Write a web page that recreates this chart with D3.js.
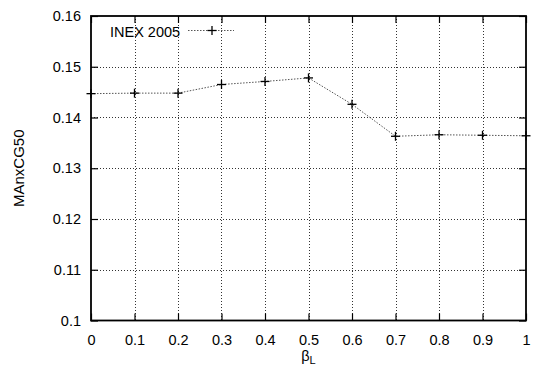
<!DOCTYPE html>
<html>
<head>
<meta charset="utf-8">
<script src="https://cdn.jsdelivr.net/npm/d3@7"></script>
<style>
  html, body { margin: 0; padding: 0; background: #fff; }
  svg { display: block; font-family: "Liberation Sans", Arial, Helvetica, sans-serif; }
</style>
</head>
<body>
<svg id="chart" width="534" height="369"></svg>
<script>
// β_L weights and the MAnxCG50 score measured at each one
const betaValues = [0, 0.1, 0.2, 0.3, 0.4, 0.5, 0.6, 0.7, 0.8, 0.9, 1.0];
const scoreValues = [0.1447, 0.1448, 0.1448, 0.1465, 0.1471, 0.1478, 0.1426, 0.1363, 0.1366, 0.1365, 0.1364];
const seriesName = "INEX 2005";
const xTicks = [0, 0.1, 0.2, 0.3, 0.4, 0.5, 0.6, 0.7, 0.8, 0.9, 1];
const yTicks = [0.1, 0.11, 0.12, 0.13, 0.14, 0.15, 0.16];

const W = 534, H = 369;
const margin = { top: 16, right: 8, bottom: 48.5, left: 91 };
const svg = d3.select("#chart");

const x = d3.scaleLinear().domain([0, 1]).range([margin.left, W - margin.right]);
const y = d3.scaleLinear().domain([0.1, 0.16]).range([H - margin.bottom, margin.top]);

const x0 = x.range()[0], x1 = x.range()[1];
const y0 = y.range()[0], y1 = y.range()[1];
const tickLen = 7;
const fontSize = 14.5;

// grid
const grid = svg.append("g").attr("stroke", "#333").attr("stroke-width", 1).attr("stroke-dasharray", "1,2");
grid.selectAll("line.gx").data(xTicks.slice(1, -1)).join("line")
  .attr("x1", d => Math.round(x(d)) + 0.5).attr("x2", d => Math.round(x(d)) + 0.5)
  .attr("y1", y1).attr("y2", y0);
grid.selectAll("line.gy").data(yTicks.slice(1, -1)).join("line")
  .attr("y1", d => Math.round(y(d)) + 0.5).attr("y2", d => Math.round(y(d)) + 0.5)
  .attr("x1", x0).attr("x2", x1);

// axes with inward ticks, mirrored on top and right
const fmt = d => d3.format("")(+d.toFixed(2));
const bottomAxis = d3.axisBottom(x).tickValues(xTicks).tickSize(-tickLen).tickPadding(tickLen + 7).tickFormat(fmt);
const topAxis = d3.axisTop(x).tickValues(xTicks).tickSize(-tickLen).tickFormat("");
const leftAxis = d3.axisLeft(y).tickValues(yTicks).tickSize(-tickLen).tickPadding(tickLen + 3).tickFormat(fmt);
const rightAxis = d3.axisRight(y).tickValues(yTicks).tickSize(-tickLen).tickFormat("");

function styleAxis(g) {
  g.select(".domain").remove();
  g.selectAll(".tick line").attr("stroke", "#000").attr("stroke-width", 1.2);
  g.selectAll(".tick text").attr("fill", "#000").attr("font-size", fontSize)
    .attr("font-family", "Liberation Sans, Arial, sans-serif");
}
svg.append("g").attr("transform", `translate(0,${y0})`).call(bottomAxis).call(styleAxis);
svg.append("g").attr("transform", `translate(0,${y1})`).call(topAxis).call(styleAxis);
svg.append("g").attr("transform", `translate(${x0},0)`).call(leftAxis).call(styleAxis);
svg.append("g").attr("transform", `translate(${x1},0)`).call(rightAxis).call(styleAxis);

// frame
svg.append("rect")
  .attr("x", x0).attr("y", y1).attr("width", x1 - x0).attr("height", y0 - y1)
  .attr("fill", "none").attr("stroke", "#000").attr("stroke-width", 1.8);

// series line
const pts = betaValues.map((b, i) => [b, scoreValues[i]]);
const line = d3.line().x(d => x(d[0])).y(d => y(d[1]));
svg.append("path").datum(pts)
  .attr("d", line).attr("fill", "none")
  .attr("stroke", "#555").attr("stroke-width", 1).attr("stroke-dasharray", "1.5,1.5");

// plus markers
const ms = 4.5;
function plus(g, cx, cy) {
  g.append("line").attr("x1", cx - ms).attr("x2", cx + ms).attr("y1", cy).attr("y2", cy);
  g.append("line").attr("x1", cx).attr("x2", cx).attr("y1", cy - ms).attr("y2", cy + ms);
}
const marks = svg.append("g").attr("stroke", "#000").attr("stroke-width", 1.3);
pts.forEach(d => plus(marks, x(d[0]), y(d[1])));

// legend
const leg = svg.append("g");
leg.append("text").attr("x", 110).attr("y", 36.5).attr("font-size", fontSize).attr("fill", "#000").text(seriesName);
leg.append("line").attr("x1", 188).attr("x2", 234).attr("y1", 30.5).attr("y2", 30.5)
  .attr("stroke", "#555").attr("stroke-width", 1).attr("stroke-dasharray", "1.5,1.5");
plus(leg.append("g").attr("stroke", "#000").attr("stroke-width", 1.3), 212, 30.5);

// axis titles
svg.append("text")
  .attr("transform", `translate(24,${(y0 + y1) / 2}) rotate(-90)`)
  .attr("text-anchor", "middle").attr("font-size", 15).attr("fill", "#000")
  .text("MAnxCG50");

const xt = svg.append("text")
  .attr("x", (x0 + x1) / 2).attr("y", 361).attr("text-anchor", "middle")
  .attr("font-size", fontSize).attr("fill", "#000");
xt.append("tspan").text("β");
xt.append("tspan").attr("dy", 3).attr("font-size", 11).text("L");
</script>
</body>
</html>
